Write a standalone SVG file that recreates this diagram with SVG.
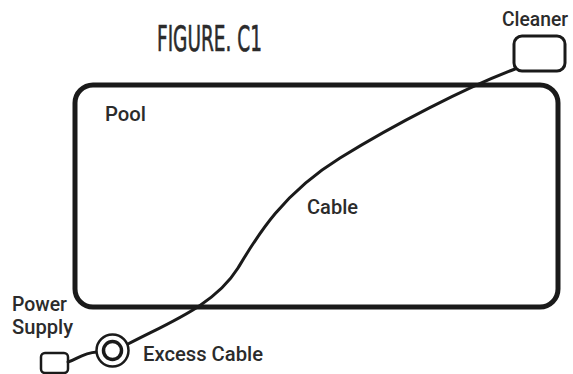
<svg xmlns="http://www.w3.org/2000/svg" width="573" height="374" viewBox="0 0 573 374">
<style>
.lbl{font-family:Roboto,"Liberation Sans",sans-serif;font-weight:500;font-size:21px;fill:#2b2b2b}
.title{font-family:"DejaVu Sans Condensed","Liberation Sans",sans-serif;font-size:35px;fill:#2b2b2b;stroke:#2b2b2b;stroke-width:0.6}
.box{fill:#fff;stroke:#1a1a1a;stroke-linejoin:round}
.cable{fill:none;stroke:#1a1a1a;stroke-width:3;stroke-linecap:round}
</style>
<rect width="573" height="374" fill="#fff"/>
<text class="title" x="157" y="51" textLength="105" lengthAdjust="spacingAndGlyphs">FIGURE. C1</text>
<g id="pool">
<rect class="box" x="75" y="85" width="483" height="222" rx="18" stroke-width="5" fill="none"/>
<text class="lbl" x="105" y="121" textLength="41" lengthAdjust="spacingAndGlyphs">Pool</text>
</g>
<g id="cleaner">
<rect class="box" x="514" y="36" width="51" height="35" rx="8" stroke-width="3"/>
<text class="lbl" x="502" y="26" textLength="66" lengthAdjust="spacingAndGlyphs">Cleaner</text>
</g>
<g id="power-supply">
<rect class="box" x="41" y="353" width="27" height="20" rx="4" stroke-width="2.5"/>
<text class="lbl" x="12" y="311" textLength="55" lengthAdjust="spacingAndGlyphs">Power</text>
<text class="lbl" x="12" y="334" textLength="61" lengthAdjust="spacingAndGlyphs">Supply</text>
</g>
<g id="connectors">
<path class="cable" d="M68,362 C76,360 82,353 97,352"/>
<path class="cable" d="M128,344 C170,322 215,305 238,268 C255,240 280,195 340,158 C395,124 465,88 515,69"/>
</g>
<g id="excess-cable">
<circle cx="112.5" cy="350.5" r="16" fill="#fff" stroke="#1a1a1a" stroke-width="2.5"/>
<circle cx="112.5" cy="350.5" r="9" fill="#fff" stroke="#1a1a1a" stroke-width="3.5"/>
<text class="lbl" x="143" y="361" textLength="120" lengthAdjust="spacingAndGlyphs">Excess Cable</text>
</g>
<g id="cable-label">
<text class="lbl" x="307" y="214" textLength="51" lengthAdjust="spacingAndGlyphs">Cable</text>
</g>
</svg>
